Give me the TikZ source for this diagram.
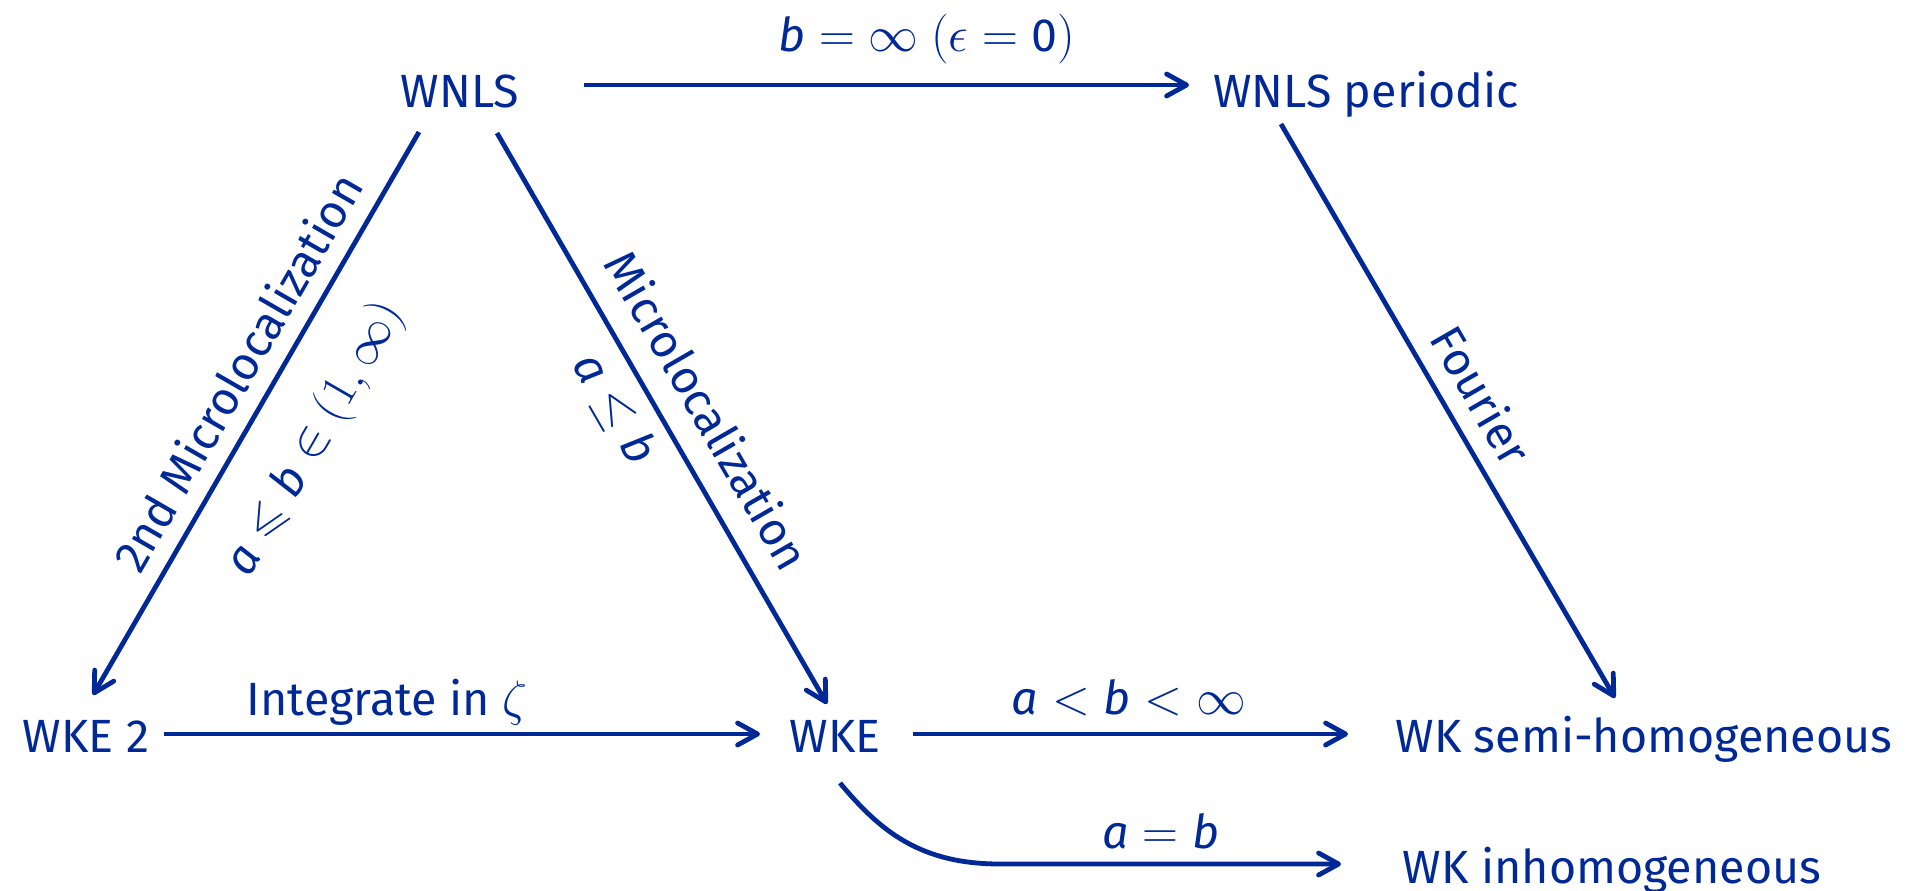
\documentclass[tikz,border=0pt]{standalone}
\usepackage{amssymb}
\usepackage{fontspec}
\setmainfont{Fira Sans}
\usetikzlibrary{arrows.meta}
\definecolor{dblue}{RGB}{0,40,150}
\newcommand\mi[1]{\textit{#1}}
\begin{document}
\begin{tikzpicture}[x=0.5pt,y=-0.5pt,
  every node/.style={text=dblue, inner sep=0pt, font=\fontsize{23.3}{28}\selectfont},
  box/.style={anchor=base},
  lbl/.style={anchor=center},
  arr/.style={draw=dblue, line width=2.4pt,
    -{Straight Barb[length=10pt,width=11pt,round]}}]
\useasboundingbox (0,0) rectangle (1908,890);
% nodes
\node[box] (wnls)  at (460,107)  {WNLS};
\node[box] (wnlsp) at (1366,107) {WNLS periodic};
\node[box] (wke2)  at (86,752)   {WKE 2};
\node[box] (wke)   at (835,752)  {WKE};
\node[box] (semi)  at (1644,752) {WK semi-homogeneous};
\node[box] (inh)   at (1612,883) {WK inhomogeneous};
% connectors
\draw[arr] ([xshift=62pt,yshift=11pt]wnls.base) -- ([xshift=-88.5pt,yshift=11pt]wnlsp.base);
\draw[arr] ([xshift=39pt,yshift=9pt]wke2.base) -- ([xshift=-37.5pt,yshift=9pt]wke.base);
\draw[arr] ([xshift=39pt,yshift=9pt]wke.base) -- ([xshift=-148pt,yshift=9pt]semi.base);
\draw[arr] ([xshift=2.5pt,yshift=-15.5pt]wke.base) .. controls +(40,48) and +(-80,0) .. ++(160,81)
   -- ([xshift=-135.5pt,yshift=9.5pt]inh.base);
\draw[arr] ([xshift=-20.5pt,yshift=-12.5pt]wnls.base) -- ([xshift=3.5pt,yshift=28.5pt]wke2.base);
\draw[arr] ([xshift=18.5pt,yshift=-13pt]wnls.base) -- ([xshift=-4pt,yshift=24pt]wke.base);
\draw[arr] ([xshift=-42.5pt,yshift=-8.5pt]wnlsp.base) -- ([xshift=-14.5pt,yshift=27pt]semi.base);
% labels
\node[box] (ltop) at (927,51) {$\mi{b} = \infty\ \bigl(\epsilon = \textup{0}\bigr)$};
\node[box] (lint) at (387,715) {Integrate in $\zeta$};
\node[box] (lab)  at (1129,714) {$\mi{a} < \mi{b} < \infty$};
\node[box] (leq)  at (1161,848) {$\mi{a} = \mi{b}$};
\node[lbl, rotate=60]  (l2nd) at (237,372) {2nd Microlocalization};
\node[lbl, rotate=60]  (l2c)  at (316,439) {$\mi{a} \leqslant \mi{b} \in (1,\infty)$};
\node[lbl, rotate=-60] (lmic) at (708,410) {Microlocalization};
\node[lbl, rotate=-60] (lmc)  at (614,409) {$\mi{a} \leq \mi{b}$};
\node[lbl, rotate=-60] (lfou) at (1482,395) {Fourier};
\end{tikzpicture}
\end{document}
